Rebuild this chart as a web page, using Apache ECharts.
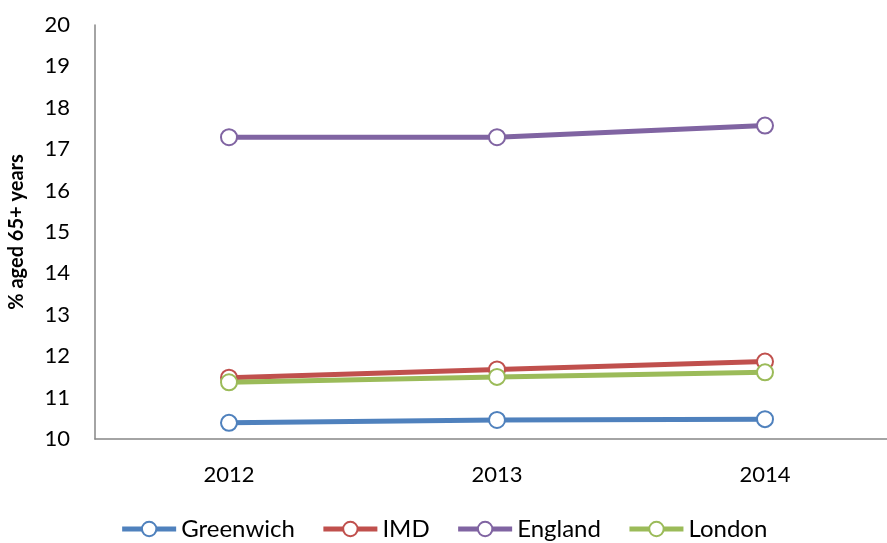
<!DOCTYPE html>
<html>
<head>
<meta charset="utf-8">
<script src="https://cdn.jsdelivr.net/npm/echarts@6/dist/echarts.min.js"></script>
<style>
  html, body { margin: 0; padding: 0; background: #fff; }
  #chart { width: 887px; height: 543px; }
</style>
</head>
<body>
<div id="chart"></div>
<script>
var years = ['2012', '2013', '2014']
var greenwich = [10.39, 10.46, 10.48]
var imd = [11.48, 11.68, 11.87]
var england = [17.29, 17.29, 17.57]
var london = [11.37, 11.5, 11.61]
var yTicks = { min: 10, max: 20, interval: 1 }

var myChart = echarts.init(document.getElementById('chart'))
var fontFamily = 'Lato, "Open Sans", sans-serif'

function lineSeries (name, color, data) {
  return {
    name: name,
    type: 'line',
    data: data,
    symbol: 'emptyCircle',
    symbolSize: 16,
    lineStyle: { width: 5, color: color },
    itemStyle: { color: color, borderWidth: 1.5 }
  }
}

const option = {
  animation: false,
  textStyle: { fontFamily: fontFamily },
  grid: {
    left: 95,
    top: 25,
    width: 804,
    height: 414,
    outerBoundsMode: 'none'
  },
  legend: {
    bottom: -3,
    left: 'center',
    itemWidth: 54,
    itemHeight: 18,
    itemGap: 26,
    lineStyle: { width: 5 },
    textStyle: { fontSize: 24, color: '#000', fontFamily: fontFamily },
    data: ['Greenwich', 'IMD', 'England', 'London']
  },
  xAxis: {
    type: 'category',
    data: years,
    boundaryGap: true,
    axisLine: { lineStyle: { color: '#868686', width: 1.5 } },
    axisTick: { show: false },
    axisLabel: { fontSize: 22, color: '#000', margin: 25 }
  },
  yAxis: {
    type: 'value',
    min: yTicks.min,
    max: yTicks.max,
    interval: yTicks.interval,
    name: '% aged 65+ years',
    nameLocation: 'middle',
    nameGap: 68,
    nameTextStyle: { fontSize: 20, fontWeight: 'bold', color: '#000' },
    axisLine: { show: true, lineStyle: { color: '#868686', width: 1.5 } },
    axisTick: { show: false },
    splitLine: { show: false },
    axisLabel: { fontSize: 22, color: '#000', margin: 25 }
  },
  series: [
    lineSeries('Greenwich', '#4F81BD', greenwich),
    lineSeries('IMD', '#C0504D', imd),
    lineSeries('England', '#8064A2', england),
    lineSeries('London', '#9BBB59', london)
  ]
}
myChart.setOption(option)
</script>
</body>
</html>
